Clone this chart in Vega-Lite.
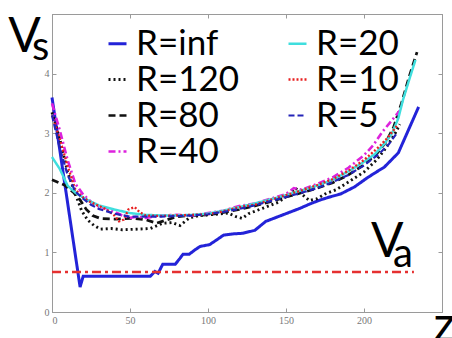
{
  "$schema": "https://vega.github.io/schema/vega-lite/v6.json",
  "width": 390,
  "height": 298,
  "autosize": {"type": "none"},
  "padding": {"left": 52, "top": 14, "right": 10, "bottom": 26},
  "background": "white",
  "config": {
    "view": {"stroke": "#9a9a9a", "strokeWidth": 1},
    "axis": {"grid": false, "domainColor": "#9a9a9a", "tickColor": "#9a9a9a", "labelColor": "#777777", "labelFont": "Liberation Serif", "labelFontSize": 10, "title": null},
    "legend": {"orient": "none", "legendX": 48, "legendY": 16, "columns": 2, "symbolType": "stroke", "symbolSize": 324, "labelFontSize": 35, "labelFont": "Lato", "labelColor": "#000000", "columnPadding": 40, "labelOffset": 1, "padding": 0, "labelLimit": 300}
  },
  "datasets": {
    "curves": [
      {"R": "R=inf", "z": 0, "v": 3.6}, {"R": "R=inf", "z": 18, "v": 0.42}, {"R": "R=inf", "z": 20, "v": 0.6}, {"R": "R=inf", "z": 63, "v": 0.6}, {"R": "R=inf", "z": 66, "v": 0.68}, {"R": "R=inf", "z": 68, "v": 0.65}, {"R": "R=inf", "z": 71, "v": 0.8}, {"R": "R=inf", "z": 79, "v": 0.8}, {"R": "R=inf", "z": 82, "v": 0.9}, {"R": "R=inf", "z": 84, "v": 0.97}, {"R": "R=inf", "z": 88, "v": 0.97}, {"R": "R=inf", "z": 92, "v": 1.05}, {"R": "R=inf", "z": 95, "v": 1.1}, {"R": "R=inf", "z": 101, "v": 1.13}, {"R": "R=inf", "z": 105, "v": 1.2}, {"R": "R=inf", "z": 110, "v": 1.29}, {"R": "R=inf", "z": 116, "v": 1.31}, {"R": "R=inf", "z": 122, "v": 1.32}, {"R": "R=inf", "z": 130, "v": 1.37}, {"R": "R=inf", "z": 137, "v": 1.52}, {"R": "R=inf", "z": 145, "v": 1.6}, {"R": "R=inf", "z": 152, "v": 1.67}, {"R": "R=inf", "z": 159, "v": 1.74}, {"R": "R=inf", "z": 166, "v": 1.82}, {"R": "R=inf", "z": 172, "v": 1.88}, {"R": "R=inf", "z": 178, "v": 1.93}, {"R": "R=inf", "z": 185, "v": 1.98}, {"R": "R=inf", "z": 194, "v": 2.1}, {"R": "R=inf", "z": 202, "v": 2.25}, {"R": "R=inf", "z": 208, "v": 2.35}, {"R": "R=inf", "z": 213, "v": 2.43}, {"R": "R=inf", "z": 222, "v": 2.67}, {"R": "R=inf", "z": 235, "v": 3.44},

      {"R": "R=120", "z": 0, "v": 3.35}, {"R": "R=120", "z": 5, "v": 2.9}, {"R": "R=120", "z": 10, "v": 2.35}, {"R": "R=120", "z": 15, "v": 1.98}, {"R": "R=120", "z": 19, "v": 1.7}, {"R": "R=120", "z": 23, "v": 1.54}, {"R": "R=120", "z": 27, "v": 1.45}, {"R": "R=120", "z": 31, "v": 1.39}, {"R": "R=120", "z": 38, "v": 1.4}, {"R": "R=120", "z": 45, "v": 1.38}, {"R": "R=120", "z": 55, "v": 1.39}, {"R": "R=120", "z": 63, "v": 1.4}, {"R": "R=120", "z": 71, "v": 1.49}, {"R": "R=120", "z": 77, "v": 1.5}, {"R": "R=120", "z": 82, "v": 1.45}, {"R": "R=120", "z": 88, "v": 1.58}, {"R": "R=120", "z": 95, "v": 1.62}, {"R": "R=120", "z": 105, "v": 1.64}, {"R": "R=120", "z": 113, "v": 1.66}, {"R": "R=120", "z": 118, "v": 1.6}, {"R": "R=120", "z": 122, "v": 1.57}, {"R": "R=120", "z": 126, "v": 1.65}, {"R": "R=120", "z": 135, "v": 1.74}, {"R": "R=120", "z": 145, "v": 1.84}, {"R": "R=120", "z": 152, "v": 1.97}, {"R": "R=120", "z": 156, "v": 2.08}, {"R": "R=120", "z": 160, "v": 1.98}, {"R": "R=120", "z": 165, "v": 1.87}, {"R": "R=120", "z": 170, "v": 1.9}, {"R": "R=120", "z": 175, "v": 1.98}, {"R": "R=120", "z": 182, "v": 2.05}, {"R": "R=120", "z": 190, "v": 2.18}, {"R": "R=120", "z": 200, "v": 2.35}, {"R": "R=120", "z": 208, "v": 2.55}, {"R": "R=120", "z": 214, "v": 2.75}, {"R": "R=120", "z": 220, "v": 3.0}, {"R": "R=120", "z": 223, "v": 3.15},

      {"R": "R=80", "z": 0, "v": 2.22}, {"R": "R=80", "z": 8, "v": 2.13}, {"R": "R=80", "z": 14, "v": 2.0}, {"R": "R=80", "z": 18, "v": 1.88}, {"R": "R=80", "z": 22, "v": 1.72}, {"R": "R=80", "z": 26, "v": 1.62}, {"R": "R=80", "z": 31, "v": 1.57}, {"R": "R=80", "z": 40, "v": 1.56}, {"R": "R=80", "z": 52, "v": 1.57}, {"R": "R=80", "z": 60, "v": 1.55}, {"R": "R=80", "z": 67, "v": 1.49}, {"R": "R=80", "z": 73, "v": 1.54}, {"R": "R=80", "z": 80, "v": 1.6}, {"R": "R=80", "z": 90, "v": 1.62}, {"R": "R=80", "z": 100, "v": 1.63}, {"R": "R=80", "z": 110, "v": 1.67}, {"R": "R=80", "z": 120, "v": 1.72}, {"R": "R=80", "z": 130, "v": 1.78}, {"R": "R=80", "z": 140, "v": 1.85}, {"R": "R=80", "z": 150, "v": 1.93}, {"R": "R=80", "z": 160, "v": 2.0}, {"R": "R=80", "z": 170, "v": 2.08}, {"R": "R=80", "z": 180, "v": 2.17}, {"R": "R=80", "z": 190, "v": 2.3}, {"R": "R=80", "z": 200, "v": 2.47}, {"R": "R=80", "z": 208, "v": 2.65}, {"R": "R=80", "z": 214, "v": 2.85}, {"R": "R=80", "z": 219, "v": 3.1}, {"R": "R=80", "z": 224, "v": 3.5}, {"R": "R=80", "z": 229, "v": 3.95}, {"R": "R=80", "z": 234, "v": 4.36},

      {"R": "R=40", "z": 0, "v": 3.5}, {"R": "R=40", "z": 5, "v": 3.05}, {"R": "R=40", "z": 10, "v": 2.55}, {"R": "R=40", "z": 15, "v": 2.15}, {"R": "R=40", "z": 20, "v": 1.97}, {"R": "R=40", "z": 25, "v": 1.85}, {"R": "R=40", "z": 30, "v": 1.77}, {"R": "R=40", "z": 35, "v": 1.74}, {"R": "R=40", "z": 40, "v": 1.68}, {"R": "R=40", "z": 45, "v": 1.62}, {"R": "R=40", "z": 50, "v": 1.58}, {"R": "R=40", "z": 55, "v": 1.6}, {"R": "R=40", "z": 60, "v": 1.58}, {"R": "R=40", "z": 65, "v": 1.6}, {"R": "R=40", "z": 70, "v": 1.62}, {"R": "R=40", "z": 80, "v": 1.63}, {"R": "R=40", "z": 90, "v": 1.62}, {"R": "R=40", "z": 100, "v": 1.66}, {"R": "R=40", "z": 110, "v": 1.7}, {"R": "R=40", "z": 120, "v": 1.78}, {"R": "R=40", "z": 130, "v": 1.82}, {"R": "R=40", "z": 140, "v": 1.9}, {"R": "R=40", "z": 150, "v": 1.98}, {"R": "R=40", "z": 155, "v": 2.08}, {"R": "R=40", "z": 160, "v": 2.05}, {"R": "R=40", "z": 170, "v": 2.15}, {"R": "R=40", "z": 180, "v": 2.26}, {"R": "R=40", "z": 190, "v": 2.42}, {"R": "R=40", "z": 200, "v": 2.63}, {"R": "R=40", "z": 206, "v": 2.8}, {"R": "R=40", "z": 212, "v": 3.03}, {"R": "R=40", "z": 218, "v": 3.22}, {"R": "R=40", "z": 223, "v": 3.38},

      {"R": "R=20", "z": 0, "v": 2.6}, {"R": "R=20", "z": 5, "v": 2.4}, {"R": "R=20", "z": 10, "v": 2.12}, {"R": "R=20", "z": 15, "v": 2.0}, {"R": "R=20", "z": 20, "v": 1.92}, {"R": "R=20", "z": 25, "v": 1.85}, {"R": "R=20", "z": 30, "v": 1.79}, {"R": "R=20", "z": 40, "v": 1.72}, {"R": "R=20", "z": 50, "v": 1.66}, {"R": "R=20", "z": 60, "v": 1.63}, {"R": "R=20", "z": 70, "v": 1.62}, {"R": "R=20", "z": 80, "v": 1.62}, {"R": "R=20", "z": 90, "v": 1.63}, {"R": "R=20", "z": 100, "v": 1.65}, {"R": "R=20", "z": 110, "v": 1.7}, {"R": "R=20", "z": 120, "v": 1.76}, {"R": "R=20", "z": 130, "v": 1.82}, {"R": "R=20", "z": 140, "v": 1.89}, {"R": "R=20", "z": 150, "v": 1.96}, {"R": "R=20", "z": 160, "v": 2.04}, {"R": "R=20", "z": 170, "v": 2.12}, {"R": "R=20", "z": 180, "v": 2.22}, {"R": "R=20", "z": 190, "v": 2.36}, {"R": "R=20", "z": 200, "v": 2.52}, {"R": "R=20", "z": 207, "v": 2.65}, {"R": "R=20", "z": 213, "v": 2.82}, {"R": "R=20", "z": 218, "v": 3.0}, {"R": "R=20", "z": 222, "v": 3.25}, {"R": "R=20", "z": 225, "v": 3.56}, {"R": "R=20", "z": 229, "v": 3.9}, {"R": "R=20", "z": 233, "v": 4.23},

      {"R": "R=10", "z": 0, "v": 3.3}, {"R": "R=10", "z": 5, "v": 2.9}, {"R": "R=10", "z": 10, "v": 2.45}, {"R": "R=10", "z": 15, "v": 2.05}, {"R": "R=10", "z": 20, "v": 1.92}, {"R": "R=10", "z": 25, "v": 1.84}, {"R": "R=10", "z": 30, "v": 1.78}, {"R": "R=10", "z": 35, "v": 1.72}, {"R": "R=10", "z": 40, "v": 1.62}, {"R": "R=10", "z": 43, "v": 1.52}, {"R": "R=10", "z": 46, "v": 1.55}, {"R": "R=10", "z": 49, "v": 1.72}, {"R": "R=10", "z": 53, "v": 1.76}, {"R": "R=10", "z": 56, "v": 1.68}, {"R": "R=10", "z": 60, "v": 1.62}, {"R": "R=10", "z": 70, "v": 1.61}, {"R": "R=10", "z": 80, "v": 1.62}, {"R": "R=10", "z": 90, "v": 1.63}, {"R": "R=10", "z": 100, "v": 1.64}, {"R": "R=10", "z": 110, "v": 1.69}, {"R": "R=10", "z": 120, "v": 1.76}, {"R": "R=10", "z": 130, "v": 1.8}, {"R": "R=10", "z": 140, "v": 1.88}, {"R": "R=10", "z": 150, "v": 1.96}, {"R": "R=10", "z": 160, "v": 2.04}, {"R": "R=10", "z": 170, "v": 2.13}, {"R": "R=10", "z": 180, "v": 2.23}, {"R": "R=10", "z": 190, "v": 2.37}, {"R": "R=10", "z": 200, "v": 2.55}, {"R": "R=10", "z": 210, "v": 2.78}, {"R": "R=10", "z": 216, "v": 2.95}, {"R": "R=10", "z": 221, "v": 3.12},

      {"R": "R=5", "z": 0, "v": 3.3}, {"R": "R=5", "z": 5, "v": 2.75}, {"R": "R=5", "z": 10, "v": 2.3}, {"R": "R=5", "z": 15, "v": 2.02}, {"R": "R=5", "z": 20, "v": 1.9}, {"R": "R=5", "z": 25, "v": 1.8}, {"R": "R=5", "z": 30, "v": 1.73}, {"R": "R=5", "z": 40, "v": 1.65}, {"R": "R=5", "z": 50, "v": 1.6}, {"R": "R=5", "z": 60, "v": 1.6}, {"R": "R=5", "z": 70, "v": 1.6}, {"R": "R=5", "z": 80, "v": 1.61}, {"R": "R=5", "z": 90, "v": 1.62}, {"R": "R=5", "z": 100, "v": 1.64}, {"R": "R=5", "z": 110, "v": 1.68}, {"R": "R=5", "z": 120, "v": 1.73}, {"R": "R=5", "z": 130, "v": 1.79}, {"R": "R=5", "z": 140, "v": 1.86}, {"R": "R=5", "z": 150, "v": 1.93}, {"R": "R=5", "z": 160, "v": 2.0}, {"R": "R=5", "z": 170, "v": 2.08}, {"R": "R=5", "z": 180, "v": 2.18}, {"R": "R=5", "z": 190, "v": 2.3}, {"R": "R=5", "z": 200, "v": 2.46}, {"R": "R=5", "z": 210, "v": 2.66}, {"R": "R=5", "z": 216, "v": 2.82}, {"R": "R=5", "z": 221, "v": 3.0}
    ],
    "va": [{"z": 0, "v": 0.67}, {"z": 232, "v": 0.67}],
    "notes": [
      {"t": "V", "z": -28, "v": 4.36, "fs": "big"},
      {"t": "s", "z": -12.8, "v": 4.23, "fs": "small"},
      {"t": "V", "z": 204.5, "v": 0.92, "fs": "big"},
      {"t": "a", "z": 218.6, "v": 0.755, "fs": "small"},
      {"t": "z", "z": 244.5, "v": -0.49, "fs": "big"}
    ]
  },
  "resolve": {"axis": {"x": "independent", "y": "independent"}},
  "layer": [
    {
      "data": {"name": "curves"},
      "mark": {"type": "line", "strokeCap": "butt", "clip": false},
      "encoding": {
        "x": {"field": "z", "type": "quantitative", "scale": {"domain": [0, 250], "nice": false}, "axis": {"orient": "bottom", "values": [0, 50, 100, 150, 200, 250], "labelExpr": "datum.value == 250 ? '' : datum.label", "tickSize": -4, "labelPadding": 7, "domain": true}},
        "y": {"field": "v", "type": "quantitative", "scale": {"domain": [0, 5], "nice": false}, "axis": {"orient": "left", "values": [0, 1, 2, 3, 4, 5], "labelExpr": "datum.value == 5 ? '' : datum.label", "tickSize": -4, "labelPadding": 7, "domain": true}},
        "color": {"field": "R", "type": "nominal", "title": null,
          "legend": {"rowPadding": 0, "clipHeight": 27},
          "scale": {"domain": ["R=inf", "R=120", "R=80", "R=40", "R=20", "R=10", "R=5"], "range": ["#2323d8", "#111111", "#111111", "#dd22dd", "#3fdede", "#e82020", "#2424b8"]}},
        "strokeDash": {"field": "R", "type": "nominal", "title": null,
          "scale": {"domain": ["R=inf", "R=120", "R=80", "R=40", "R=20", "R=10", "R=5"], "range": [[1, 0], [2, 3], [7, 4], [7, 3, 2, 3], [1, 0], [2, 2], [6, 3]]}},
        "strokeWidth": {"field": "R", "type": "nominal", "title": null,
          "scale": {"domain": ["R=inf", "R=120", "R=80", "R=40", "R=20", "R=10", "R=5"], "range": [3, 2.2, 3, 2.2, 2.2, 2, 2.2]}},
        "order": {"field": "z", "type": "quantitative"}
      }
    },
    {
      "data": {"name": "va"},
      "mark": {"type": "line", "color": "#e53030", "strokeWidth": 2.5, "strokeDash": [9, 4, 3, 4]},
      "encoding": {
        "x": {"field": "z", "type": "quantitative", "axis": {"orient": "top", "values": [0, 50, 100, 150, 200, 250], "labels": false, "tickSize": -4, "domain": true}},
        "y": {"field": "v", "type": "quantitative", "axis": {"orient": "right", "values": [0, 1, 2, 3, 4, 5], "labels": false, "tickSize": -4, "domain": true}}
      }
    },
    {
      "data": {"name": "notes"},
      "mark": {"type": "text", "font": "Lato", "align": "left", "baseline": "alphabetic", "color": "#000000"},
      "encoding": {
        "x": {"field": "z", "type": "quantitative", "axis": null},
        "y": {"field": "v", "type": "quantitative", "axis": null},
        "text": {"field": "t"},
        "size": {"field": "fs", "type": "nominal", "legend": null, "scale": {"domain": ["big", "small"], "range": [48, 40]}}
      }
    }
  ]
}
